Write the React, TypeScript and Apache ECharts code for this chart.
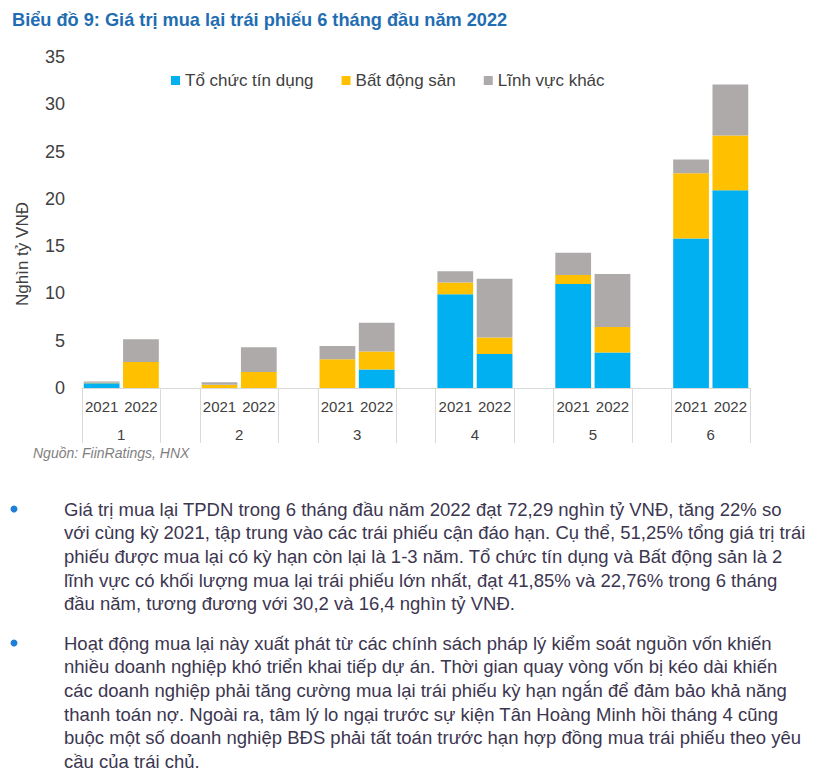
import React, { useEffect, useRef } from "react";
import * as echarts from "echarts";

const months = ["1", "2", "3", "4", "5", "6"];
const years = ["2021", "2022"];
const seriesNames = ["Tổ chức tín dụng", "Bất động sản", "Lĩnh vực khác"];
const seriesColors = ["#00B0F0", "#FFC000", "#AEAAAA"];

// values per month: [2021, 2022]
const tctd2021 = [0.5, 0, 0, 9.9, 11.0, 15.8];
const tctd2022 = [0, 0, 1.95, 3.6, 3.75, 20.9];
const bds2021 = [0.05, 0.35, 3.05, 1.25, 0.95, 6.9];
const bds2022 = [2.75, 1.7, 1.9, 1.75, 2.7, 5.8];
const khac2021 = [0.15, 0.25, 1.4, 1.2, 2.35, 1.45];
const khac2022 = [2.4, 2.6, 3.05, 6.2, 5.6, 5.4];

const yTicks = [0, 5, 10, 15, 20, 25, 30, 35];

const titleText = "Biểu đồ 9: Giá trị mua lại trái phiếu 6 tháng đầu năm 2022";
const yAxisTitle = "Nghìn tỷ VNĐ";
const sourceText = "Nguồn: FiinRatings, HNX";

const bullet1 = [
  "Giá trị mua lại TPDN trong 6 tháng đầu năm 2022 đạt 72,29 nghìn tỷ VNĐ, tăng 22% so",
  "với cùng kỳ 2021, tập trung vào các trái phiếu cận đáo hạn. Cụ thể, 51,25% tổng giá trị trái",
  "phiếu được mua lại có kỳ hạn còn lại là 1-3 năm. Tổ chức tín dụng và Bất động sản là 2",
  "lĩnh vực có khối lượng mua lại trái phiếu lớn nhất, đạt 41,85% và 22,76% trong 6 tháng",
  "đầu năm, tương đương với 30,2 và 16,4 nghìn tỷ VNĐ.",
];
const bullet2 = [
  "Hoạt động mua lại này xuất phát từ các chính sách pháp lý kiểm soát nguồn vốn khiến",
  "nhiều doanh nghiệp khó triển khai tiếp dự án. Thời gian quay vòng vốn bị kéo dài khiến",
  "các doanh nghiệp phải tăng cường mua lại trái phiếu kỳ hạn ngắn để đảm bảo khả năng",
  "thanh toán nợ. Ngoài ra, tâm lý lo ngại trước sự kiện Tân Hoàng Minh hồi tháng 4 cũng",
  "buộc một số doanh nghiệp BĐS phải tất toán trước hạn hợp đồng mua trái phiếu theo yêu",
  "cầu của trái chủ.",
];

const FONT = "'Liberation Sans', Arial, sans-serif";

function buildSlots(a2021: number[], a2022: number[]) {
  const out: (number | null)[] = [];
  months.forEach((_, i) => {
    out.push(a2021[i], a2022[i]);
    if (i < months.length - 1) out.push(null);
  });
  return out;
}

export default function App() {
  const ref = useRef<HTMLDivElement>(null);
  useEffect(() => {
    document.body.style.margin = "0";
    const chart = echarts.init(ref.current!, null, { renderer: "svg" });

    const cats: string[] = [];
    months.forEach((m, i) => {
      years.forEach((y) => cats.push(m + "|" + y));
      if (i < months.length - 1) cats.push("gap" + i);
    });
    const nHalf = cats.length * 2 + 1;
    const monthCats: string[] = [];
    for (let k = 0; k < nHalf; k++) monthCats.push("h" + k);

    const values = [
      [tctd2021, tctd2022],
      [bds2021, bds2022],
      [khac2021, khac2022],
    ];

    const textColor = "#404040";
    const bodyColor = "#3C3650";
    const lineGraphics: any[] = [];
    const lineH = 23.7;
    bullet1.forEach((t, i) => {
      lineGraphics.push({
        type: "text",
        x: 64,
        y: 509 + i * lineH,
        style: { text: t, font: `18.5px ${FONT}`, fill: bodyColor, verticalAlign: "middle" },
      });
    });
    bullet2.forEach((t, i) => {
      lineGraphics.push({
        type: "text",
        x: 64,
        y: 643 + i * lineH,
        style: { text: t, font: `18.5px ${FONT}`, fill: bodyColor, verticalAlign: "middle" },
      });
    });

    chart.setOption({
      animation: false,
      backgroundColor: "#ffffff",
      textStyle: { fontFamily: FONT },
      legend: {
        left: 166,
        top: 67,
        itemWidth: 9,
        itemHeight: 9,
        itemGap: 28,
        icon: "rect",
        textStyle: { fontSize: 17, color: textColor, fontFamily: FONT },
        data: seriesNames,
      },
      grid: { left: 82, right: 65, top: 57, bottom: 387, containLabel: false },
      xAxis: [
        {
          type: "category",
          data: cats,
          axisLine: { show: true, lineStyle: { color: "#D9D9D9", width: 1 } },
          axisTick: { show: false },
          axisLabel: {
            interval: 0,
            fontSize: 15,
            color: textColor,
            margin: 11,
            formatter: (v: string) => (v.startsWith("gap") ? "" : v.split("|")[1]),
          },
        },
        {
          type: "category",
          position: "bottom",
          boundaryGap: false,
          data: monthCats,
          axisLine: { show: false },
          axisTick: {
            show: true,
            length: 55,
            lineStyle: { color: "#D9D9D9" },
            interval: (idx: number) => idx % 6 === 0 || idx % 6 === 4,
          },
          axisLabel: {
            interval: (idx: number) => idx % 6 === 2,
            fontSize: 15,
            color: textColor,
            margin: 39,
            formatter: (_v: string, idx: number) => months[Math.floor(idx / 6)] ?? "",
          },
        },
      ],
      yAxis: {
        type: "value",
        min: yTicks[0],
        max: yTicks[yTicks.length - 1],
        interval: 5,
        axisLine: { show: false },
        axisTick: { show: false },
        splitLine: { show: false },
        axisLabel: { fontSize: 18, color: textColor, margin: 17 },
      },
      series: seriesNames.map((name, s) => ({
        name,
        type: "bar",
        stack: "total",
        xAxisIndex: 0,
        barCategoryGap: "9%",
        itemStyle: { color: seriesColors[s] },
        data: buildSlots(values[s][0], values[s][1]),
      })),
      graphic: [
        {
          type: "text",
          x: 12,
          y: 20,
          style: {
            text: titleText,
            font: `bold 18.2px ${FONT}`,
            fill: "#1F6DB2",
            verticalAlign: "middle",
          },
        },
        {
          type: "text",
          x: 22,
          y: 254,
          rotation: Math.PI / 2,
          style: {
            text: yAxisTitle,
            font: `17px ${FONT}`,
            fill: textColor,
            align: "center",
            verticalAlign: "middle",
          },
        },
        {
          type: "text",
          x: 33,
          y: 453,
          style: {
            text: sourceText,
            font: `italic 14px ${FONT}`,
            fill: "#7F7F7F",
            verticalAlign: "middle",
          },
        },
        { type: "circle", shape: { cx: 14, cy: 509, r: 3.5 }, style: { fill: "#1E7FD6" } },
        { type: "circle", shape: { cx: 14, cy: 643, r: 3.5 }, style: { fill: "#1E7FD6" } },
        ...lineGraphics,
      ],
    });
    return () => chart.dispose();
  }, []);
  return <div ref={ref} style={{ width: 815, height: 775 }} />;
}
